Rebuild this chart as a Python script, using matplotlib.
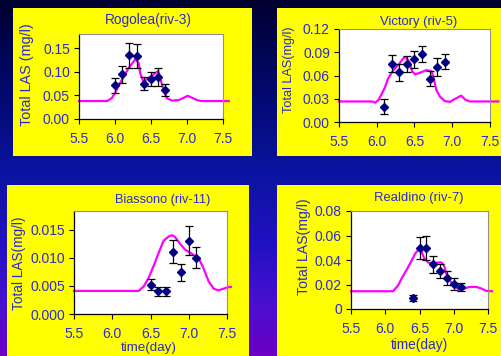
import numpy as np
import matplotlib
matplotlib.use("Agg")
import matplotlib.pyplot as plt
from matplotlib.patches import Rectangle
from matplotlib.colors import LinearSegmentedColormap

plt.rcParams['font.family'] = ['Liberation Sans', 'DejaVu Sans']

# ---------------- data ----------------
# Rogolea (riv-3)
rog_x = [6.0, 6.1, 6.2, 6.3, 6.4, 6.5, 6.6, 6.7]
rog_y = [0.071, 0.095, 0.135, 0.133, 0.075, 0.084, 0.088, 0.062]
rog_err = [0.015, 0.018, 0.026, 0.026, 0.014, 0.015, 0.019, 0.013]
rog_mx = [5.5, 5.89, 5.955, 6.0, 6.095, 6.19, 6.26, 6.28, 6.33, 6.35, 6.395, 6.465, 6.56, 6.6,
          6.66, 6.72, 6.79, 6.88, 6.94, 7.01, 7.07, 7.14, 7.2, 7.58]
rog_my = [0.038, 0.038, 0.044, 0.055, 0.083, 0.108, 0.122, 0.127, 0.118, 0.097, 0.079, 0.087, 0.097, 0.102,
          0.069, 0.044, 0.039, 0.040, 0.044, 0.049, 0.045, 0.040, 0.038, 0.038]

# Victory (riv-5)
vic_x = [6.1, 6.2, 6.3, 6.4, 6.5, 6.6, 6.7, 6.8, 6.9]
vic_y = [0.020, 0.075, 0.064, 0.075, 0.081, 0.088, 0.056, 0.071, 0.078]
vic_err = [0.010, 0.011, 0.011, 0.010, 0.011, 0.010, 0.010, 0.011, 0.0095]
vic_mx = [5.5, 5.935, 5.98, 6.02, 6.07, 6.11, 6.15, 6.22, 6.29, 6.35, 6.38, 6.43, 6.47, 6.51, 6.57,
          6.66, 6.73, 6.76, 6.79, 6.84, 6.9, 6.97, 7.03, 7.1, 7.12, 7.17, 7.23, 7.61]
vic_my = [0.0265, 0.0265, 0.025, 0.028, 0.037, 0.045, 0.056, 0.067, 0.074, 0.082, 0.084, 0.078, 0.065,
          0.0615, 0.0635, 0.067, 0.065, 0.054, 0.041, 0.0325, 0.027, 0.026, 0.0295, 0.033, 0.034, 0.029,
          0.0265, 0.0265]

# Biassono (riv-11)
bia_x = [6.5, 6.6, 6.7, 6.8, 6.9, 7.0, 7.1]
bia_y = [0.0052, 0.0040, 0.0040, 0.0111, 0.0074, 0.0130, 0.0100]
bia_err = [0.0010, 0.0008, 0.0008, 0.0021, 0.0015, 0.0026, 0.0019]
bia_mx = [5.5, 6.345, 6.41, 6.475, 6.54, 6.605, 6.67, 6.74, 6.78, 6.82, 6.89, 6.955, 7.04, 7.13,
          7.19, 7.26, 7.325, 7.39, 7.455, 7.52, 7.55]
bia_my = [0.0041, 0.0041, 0.0049, 0.0064, 0.0085, 0.0108, 0.0130, 0.0138, 0.0140, 0.0137, 0.0124,
          0.0114, 0.0107, 0.0099, 0.0082, 0.0058, 0.0045, 0.0042, 0.0045, 0.0048, 0.0048]

# Realdino (riv-7)
rea_x = [6.4, 6.5, 6.6, 6.7, 6.8, 6.9, 7.0, 7.1]
rea_y = [0.0088, 0.0496, 0.0500, 0.0365, 0.0312, 0.0255, 0.0205, 0.0176]
rea_err = [0.0023, 0.0090, 0.0097, 0.0070, 0.0055, 0.0055, 0.0047, 0.0033]
rea_mx = [5.5, 6.115, 6.19, 6.24, 6.31, 6.38, 6.44, 6.49, 6.53, 6.57, 6.625, 6.70, 6.77, 6.82, 6.86,
          6.89, 6.94, 7.01, 7.09, 7.16, 7.23, 7.33, 7.40, 7.475, 7.56]
rea_my = [0.0145, 0.0145, 0.0195, 0.025, 0.0318, 0.039, 0.0455, 0.0488, 0.0468, 0.0414, 0.038, 0.0367,
          0.038, 0.038, 0.0353, 0.029, 0.0236, 0.018, 0.016, 0.0168, 0.018, 0.018, 0.0168, 0.0148, 0.0145]

x_ticks = [5.5, 6.0, 6.5, 7.0, 7.5]
x_ticklabels = ["5.5", "6.0", "6.5", "7.0", "7.5"]

# ---------------- figure ----------------
W, H = 502, 356
fig = plt.figure(figsize=(W / 100, H / 100), dpi=100)

# background gradient
bg = fig.add_axes([0, 0, 1, 1], zorder=-10)
cmap = LinearSegmentedColormap.from_list(
    "bg", [(0.0, "#000030"), (0.3, "#040a78"), (0.48, "#0a14a0"),
           (0.7, "#2410c4"), (0.85, "#4810d0"), (1.0, "#6c00c4")])
grad = np.linspace(0, 1, 256).reshape(-1, 1)
bg.imshow(grad, aspect='auto', cmap=cmap, extent=[0, 1, 0, 1], origin='upper')
bg.axis('off')

YEL = "#ffff00"
TXT = "#2a2acc"


def rect_px(x0, y0, x1, y1):
    fig.patches.append(Rectangle((x0 / W, 1 - y1 / H), (x1 - x0) / W, (y1 - y0) / H,
                                 transform=fig.transFigure, facecolor=YEL,
                                 edgecolor='none', zorder=-5))


def ax_px(x0, y0, x1, y1):
    return fig.add_axes([x0 / W, 1 - y1 / H, (x1 - x0) / W, (y1 - y0) / H])


def ftext(x, y, s, size, rot=0):
    fig.text(x / W, 1 - y / H, s, ha='center', va='center', color=TXT,
             fontsize=size, rotation=rot)


rect_px(13, 8, 252, 156)
rect_px(277, 8, 502, 156)
rect_px(7, 185, 249, 356)
rect_px(277, 185, 502, 356)


def panel(box, xs, ys, errs, mx, my, ylim, yticks, yticklabels):
    ax = ax_px(*box)
    ax.set_facecolor("white")
    ax.plot(mx, my, color="#ff00ff", lw=1.6, clip_on=False, zorder=2)
    ax.errorbar(xs, ys, yerr=errs, fmt='D', color='#000080', ms=4.5,
                ecolor='black', elinewidth=0.9, capsize=3, capthick=0.9, zorder=3)
    ax.set_xlim(5.5, 7.5)
    ax.set_ylim(*ylim)
    ax.set_xticks(x_ticks)
    ax.set_xticklabels(x_ticklabels)
    ax.set_yticks(yticks)
    ax.set_yticklabels(yticklabels)
    ax.tick_params(axis='both', direction='out', length=3.5, width=0.8,
                   colors='black', labelcolor=TXT, labelsize=10)
    ax.tick_params(axis='x', pad=6)
    ax.tick_params(axis='y', pad=3)
    for s in ('top', 'right'):
        ax.spines[s].set_color('#909090')
        ax.spines[s].set_linewidth(0.8)
    for s in ('left', 'bottom'):
        ax.spines[s].set_color('black')
        ax.spines[s].set_linewidth(0.9)
    return ax


panel((79, 34, 223, 119), rog_x, rog_y, rog_err, rog_mx, rog_my, (0, 0.18),
      [0, 0.05, 0.10, 0.15], ["0.00", "0.05", "0.10", "0.15"])
panel((339, 29, 490, 122), vic_x, vic_y, vic_err, vic_mx, vic_my, (0, 0.12),
      [0, 0.03, 0.06, 0.09, 0.12], ["0.00", "0.03", "0.06", "0.09", "0.12"])
panel((74, 211, 227, 314), bia_x, bia_y, bia_err, bia_mx, bia_my, (0, 0.0183),
      [0, 0.005, 0.010, 0.015], ["0.000", "0.005", "0.010", "0.015"])
panel((351, 211, 488, 309), rea_x, rea_y, rea_err, rea_mx, rea_my, (0, 0.08),
      [0, 0.02, 0.04, 0.06, 0.08], ["0", "0.02", "0.04", "0.06", "0.08"])

# titles
ftext(148, 20, "Rogolea(riv-3)", 9.8)
ftext(419, 22, "Victory (riv-5)", 9.4)
ftext(163, 200.5, "Biassono (riv-11)", 9.2)
ftext(419, 198.5, "Realdino (riv-7)", 9.4)

# y labels
ftext(27, 75, "Total LAS (mg/l)", 10.4, 90)
ftext(289, 70, "Total LAS(mg/l)", 9.1, 90)
ftext(19, 263.5, "Total LAS(mg/l)", 9.8, 90)
ftext(304, 247, "Total LAS(mg/l)", 10.1, 90)

# x labels
ftext(149, 348, "time(day)", 9.6)
ftext(419, 344.5, "time(day)", 9.8)

fig.savefig("out.png", dpi=100)
